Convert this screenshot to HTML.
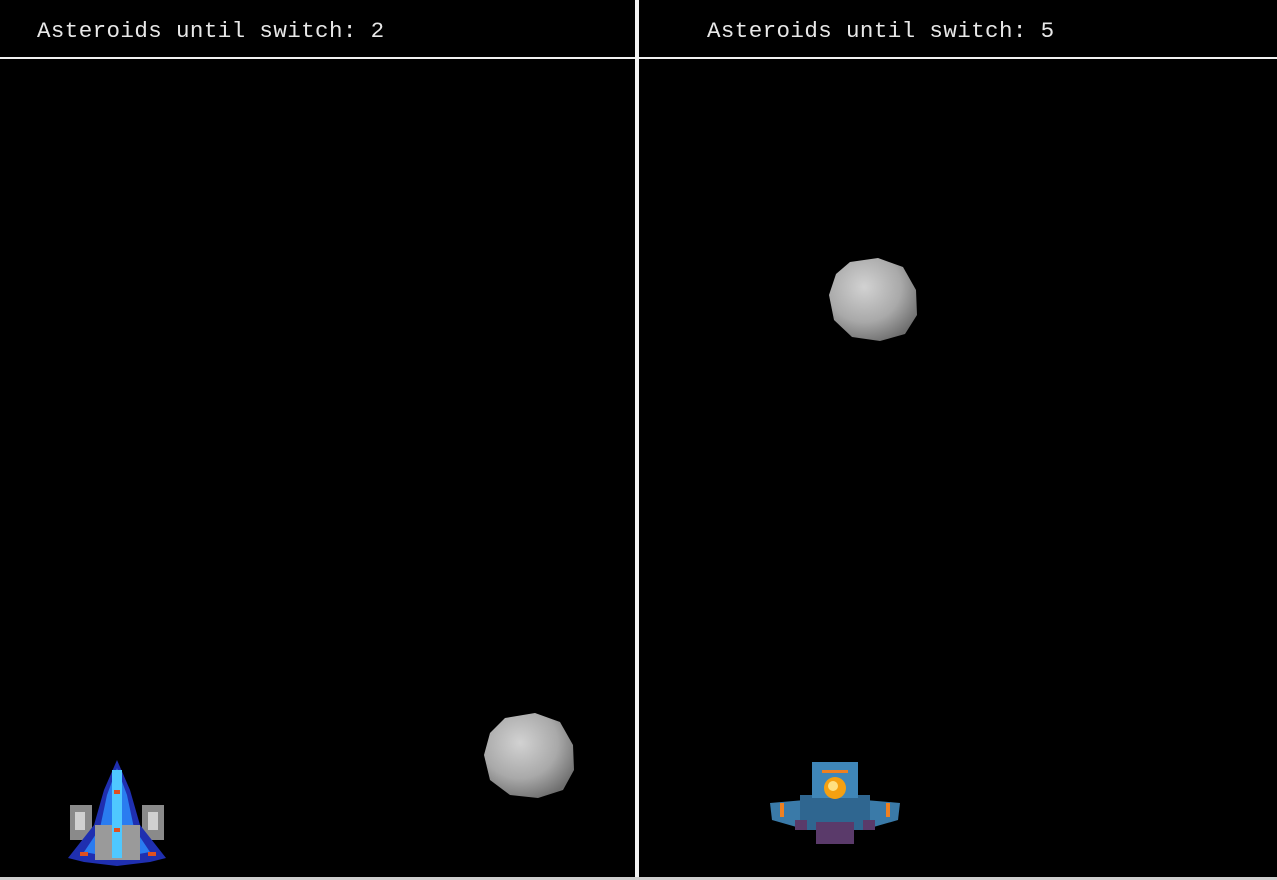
<!DOCTYPE html>
<html><head><meta charset="utf-8">
<style>
html,body{margin:0;padding:0;background:#000;}
#game{position:relative;width:1277px;height:880px;background:#000;overflow:hidden;}
.hud{position:absolute;top:18px;font-family:"Liberation Mono","DejaVu Sans Mono",monospace;font-size:22.5px;color:#e8e8e8;white-space:pre;letter-spacing:0.4px;}
</style></head><body>
<div id="game">
  <div style="position:absolute;left:0;top:0;width:635px;height:880px;"></div>
  <div style="position:absolute;left:639px;top:0;width:638px;height:880px;"></div>
  <div class="hud" style="left:37px;">Asteroids until switch: 2</div>
  <div class="hud" style="left:707px;">Asteroids until switch: 5</div>
  <div style="position:absolute;left:0;top:57px;width:1277px;height:2px;background:#f0f0f0;"></div>
  <div style="position:absolute;left:635px;top:0;width:4px;height:880px;background:#f4f4f4;"></div>
  <div style="position:absolute;left:0;top:877px;width:1277px;height:3px;background:#cfcfcf;"></div>
  <svg width="1277" height="880" style="position:absolute;left:0;top:0">
    <defs>
      <radialGradient id="rock" cx="40%" cy="35%" r="70%">
        <stop offset="0" stop-color="#d2d2d2"/><stop offset="0.6" stop-color="#a9a9a9"/><stop offset="1" stop-color="#6e6e6e"/>
      </radialGradient>
    </defs>
    <g>
      <polygon fill="url(#rock)" points="505,718 535,713 560,722 573,745 574,770 563,790 538,798 510,795 490,780 484,755 490,733"/>
    </g>
    <g>
      <polygon fill="url(#rock)" points="850,262 878,258 903,267 916,290 917,315 905,334 880,341 852,337 834,320 829,295 836,274"/>
    </g>
    <g>
      <rect x="70" y="805" width="22" height="35" fill="#8a8a8a"/>
      <rect x="142" y="805" width="22" height="35" fill="#8a8a8a"/>
      <rect x="75" y="812" width="10" height="18" fill="#d0d0d0"/>
      <rect x="148" y="812" width="10" height="18" fill="#d0d0d0"/>
      <polygon fill="#1f2fb0" points="117,760 130,790 140,825 166,858 150,862 117,866 84,862 68,858 94,825 104,790"/>
      <polygon fill="#2a7cf0" points="117,768 127,795 134,828 150,852 117,858 84,852 100,828 107,795"/>
      <rect x="95" y="825" width="45" height="35" fill="#9a9a9a"/>
      <rect x="112" y="770" width="10" height="88" fill="#4fc8ff"/>
      <rect x="114" y="790" width="6" height="4" fill="#e05020"/>
      <rect x="114" y="828" width="6" height="4" fill="#e05020"/>
      <rect x="80" y="852" width="8" height="4" fill="#e05020"/>
      <rect x="148" y="852" width="8" height="4" fill="#e05020"/>
    </g>
    <g>
      <polygon fill="#3a7aa8" points="770,803 805,800 865,800 900,803 898,820 870,828 800,828 772,820"/>
      <rect x="800" y="795" width="70" height="35" fill="#2f6690"/>
      <rect x="812" y="762" width="46" height="36" fill="#3f86b8"/>
      <rect x="816" y="822" width="38" height="22" fill="#5a3a6a"/>
      <rect x="795" y="820" width="12" height="10" fill="#5a3a6a"/>
      <rect x="863" y="820" width="12" height="10" fill="#5a3a6a"/>
      <circle cx="835" cy="788" r="11" fill="#f5a010"/>
      <circle cx="833" cy="786" r="5" fill="#ffe080"/>
      <rect x="780" y="803" width="4" height="14" fill="#f08020"/>
      <rect x="886" y="803" width="4" height="14" fill="#f08020"/>
      <rect x="822" y="770" width="26" height="3" fill="#f08020"/>
    </g>
  </svg>
</div>
</body></html>
